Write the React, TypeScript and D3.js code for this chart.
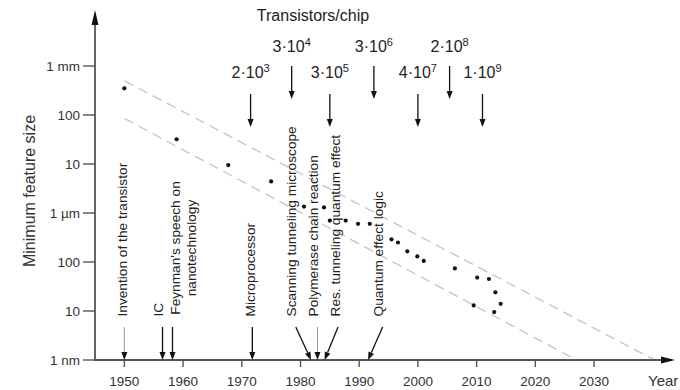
import React from "react";
import * as d3 from "d3";

// feature size data points (year, size in nm)
const pointYears = [1950, 1958.9, 1967.7, 1975, 1980.6, 1984, 1985, 1987.7, 1989.8, 1991.8, 1995.5, 1996.6, 1998.2, 1999.9, 2001, 2006.3, 2010.1, 2012.1, 2013.2, 2009.5, 2014.1, 2013];
const pointSizesNm = [350000, 32000, 9500, 4400, 1350, 1300, 700, 700, 600, 600, 290, 250, 165, 130, 105, 74, 48, 45, 24, 13, 14, 9.5];

// dashed trend lines: [startYear, endYear], [startSize, endSize]
const upperTrendYears = [1950, 2040.3];
const upperTrendSizes = [500000, 1];
const lowerTrendYears = [1950, 2027];
const lowerTrendSizes = [85000, 1];

// transistors per chip
const chipYears = [1971.5, 1978.5, 1985, 1992.5, 2000, 2005.4, 2011];
const chipMantissa = ["2", "3", "3", "3", "4", "2", "1"];
const chipExponent = ["3", "4", "5", "6", "7", "8", "9"];

// events along the time axis
const eventLabels = [
  ["Invention of the transistor"],
  ["IC"],
  ["Feynman's speech on", "nanotechnology"],
  ["Microprocessor"],
  ["Scanning tunneling microscope"],
  ["Polymerase chain reaction"],
  ["Res. tunneling quantum effect"],
  ["Quantum effect logic"],
];
const eventYears = [1950, 1956.5, 1958.2, 1971.8, 1981.8, 1982.9, 1984.1, 1991.5];
const eventFromYears = [1950, 1956.5, 1958.2, 1971.8, 1979.2, 1982.9, 1986.4, 1994];

const xTicks = [1950, 1960, 1970, 1980, 1990, 2000, 2010, 2020, 2030];
const yTicks = [1, 10, 100, 1000, 10000, 100000, 1000000];
const yTickLabels = ["1 nm", "10", "100", "1 µm", "10", "100", "1 mm"];

// layout
const W = 680, H = 390;
const x0 = 95, yBase = 360;
const font = "'Liberation Sans', Arial, Helvetica, sans-serif";
const eventDx = [3, 0, 8, 2.5, 0, 0.5, 2, 0];
const eventGray = [true, false, false, false, false, true, false, false];

function Arrow({ x1, y1, x2, y2, color = "#111", head = "#111", width = 1.3 }: any) {
  const ang = Math.atan2(y2 - y1, x2 - x1);
  const len = 8, hw = 3;
  const bx = x2 - len * Math.cos(ang), by = y2 - len * Math.sin(ang);
  const px = -Math.sin(ang) * hw, py = Math.cos(ang) * hw;
  return (
    <g>
      <line x1={x1} y1={y1} x2={bx} y2={by} stroke={color} strokeWidth={width} />
      <path d={`M${x2},${y2}L${bx + px},${by + py}L${bx - px},${by - py}Z`} fill={head} />
    </g>
  );
}

export default function App() {
  const x = d3.scaleLinear().domain([1945, 2045]).range([x0, x0 + 100 * 5.871]);
  const y = d3.scaleLog().domain([1, 1e6]).range([yBase, 66]);

  const line = d3.line<[number, number]>().x(d => x(d[0])).y(d => y(d[1]));
  const upper = line(upperTrendYears.map((yr, i) => [yr, upperTrendSizes[i]]) as [number, number][]);
  const lower = line(lowerTrendYears.map((yr, i) => [yr, lowerTrendSizes[i]]) as [number, number][]);

  return (
    <svg width={W} height={H} style={{ position: "absolute", left: 0, top: 0, background: "#fff" }} fontFamily={font}>
      {/* trend lines */}
      <path d={upper || ""} fill="none" stroke="#c4c4c4" strokeWidth={1.3} strokeDasharray="10,6" />
      <path d={lower || ""} fill="none" stroke="#c4c4c4" strokeWidth={1.3} strokeDasharray="10,6" />

      {/* axes */}
      <line x1={x0} y1={yBase + 1} x2={x0} y2={22} stroke="#555" strokeWidth={1.8} />
      <path d={`M${x0},10L${x0 + 3.5},25L${x0 - 3.5},25Z`} fill="#111" />
      <line x1={x0} y1={yBase} x2={663} y2={yBase} stroke="#555" strokeWidth={1.8} />
      <path d={`M675,${yBase}L661,${yBase - 3.5}L661,${yBase + 3.5}Z`} fill="#111" />

      {yTicks.map((t, i) => (
        <g key={"yt" + i}>
          <line x1={83} x2={x0} y1={y(t)} y2={y(t)} stroke="#555" strokeWidth={1.4} />
          <text x={80} y={y(t)} dy="0.35em" textAnchor="end" fontSize={13.5} fill="#333">{yTickLabels[i]}</text>
        </g>
      ))}
      {xTicks.map((t, i) => (
        <g key={"xt" + i}>
          <line x1={x(t)} x2={x(t)} y1={yBase} y2={367} stroke="#555" strokeWidth={1.4} />
          <text x={x(t)} y={386} textAnchor="middle" fontSize={13.5} fill="#333">{t}</text>
        </g>
      ))}
      <text x={648} y={386} fontSize={15} fill="#333">Year</text>
      <text transform="translate(35,191) rotate(-90)" textAnchor="middle" fontSize={16} fill="#333">Minimum feature size</text>

      {/* transistors per chip */}
      <text x={313} y={21} textAnchor="middle" fontSize={16} fill="#222">Transistors/chip</text>
      {chipYears.map((yr, i) => {
        const high = i % 2 === 1;
        const cx = x(yr);
        return (
          <g key={"c" + i}>
            <text x={cx} y={high ? 52 : 78} textAnchor="middle" fontSize={16} fill="#222">
              {chipMantissa[i]}·10<tspan fontSize={11} dy={-6}>{chipExponent[i]}</tspan>
            </text>
            <Arrow x1={cx} y1={high ? 66 : 94} x2={cx} y2={high ? 99 : 127} />
          </g>
        );
      })}

      {/* events */}
      {eventYears.map((yr, i) => {
        const fx = x(eventFromYears[i]);
        const lines = eventLabels[i];
        return (
          <g key={"e" + i}>
            <Arrow
              x1={fx} y1={327} x2={x(yr)} y2={yBase}
              color={eventGray[i] ? "#999" : "#111"}
              width={eventGray[i] ? 1 : 1.3}
            />
            {lines.length === 1 ? (
              <text transform={`translate(${fx + eventDx[i]},316.5) rotate(-90)`} fontSize={13.7} fill="#222">{lines[0]}</text>
            ) : (
              lines.map((l, j) => (
                <text key={j} transform={`translate(${fx + eventDx[i] + j * 16},248) rotate(-90)`} textAnchor="middle" fontSize={13.7} fill="#222">{l}</text>
              ))
            )}
          </g>
        );
      })}

      {/* data points */}
      {pointYears.map((yr, i) => (
        <circle key={"p" + i} cx={x(yr)} cy={y(pointSizesNm[i])} r={2.1} fill="#111" />
      ))}
    </svg>
  );
}
